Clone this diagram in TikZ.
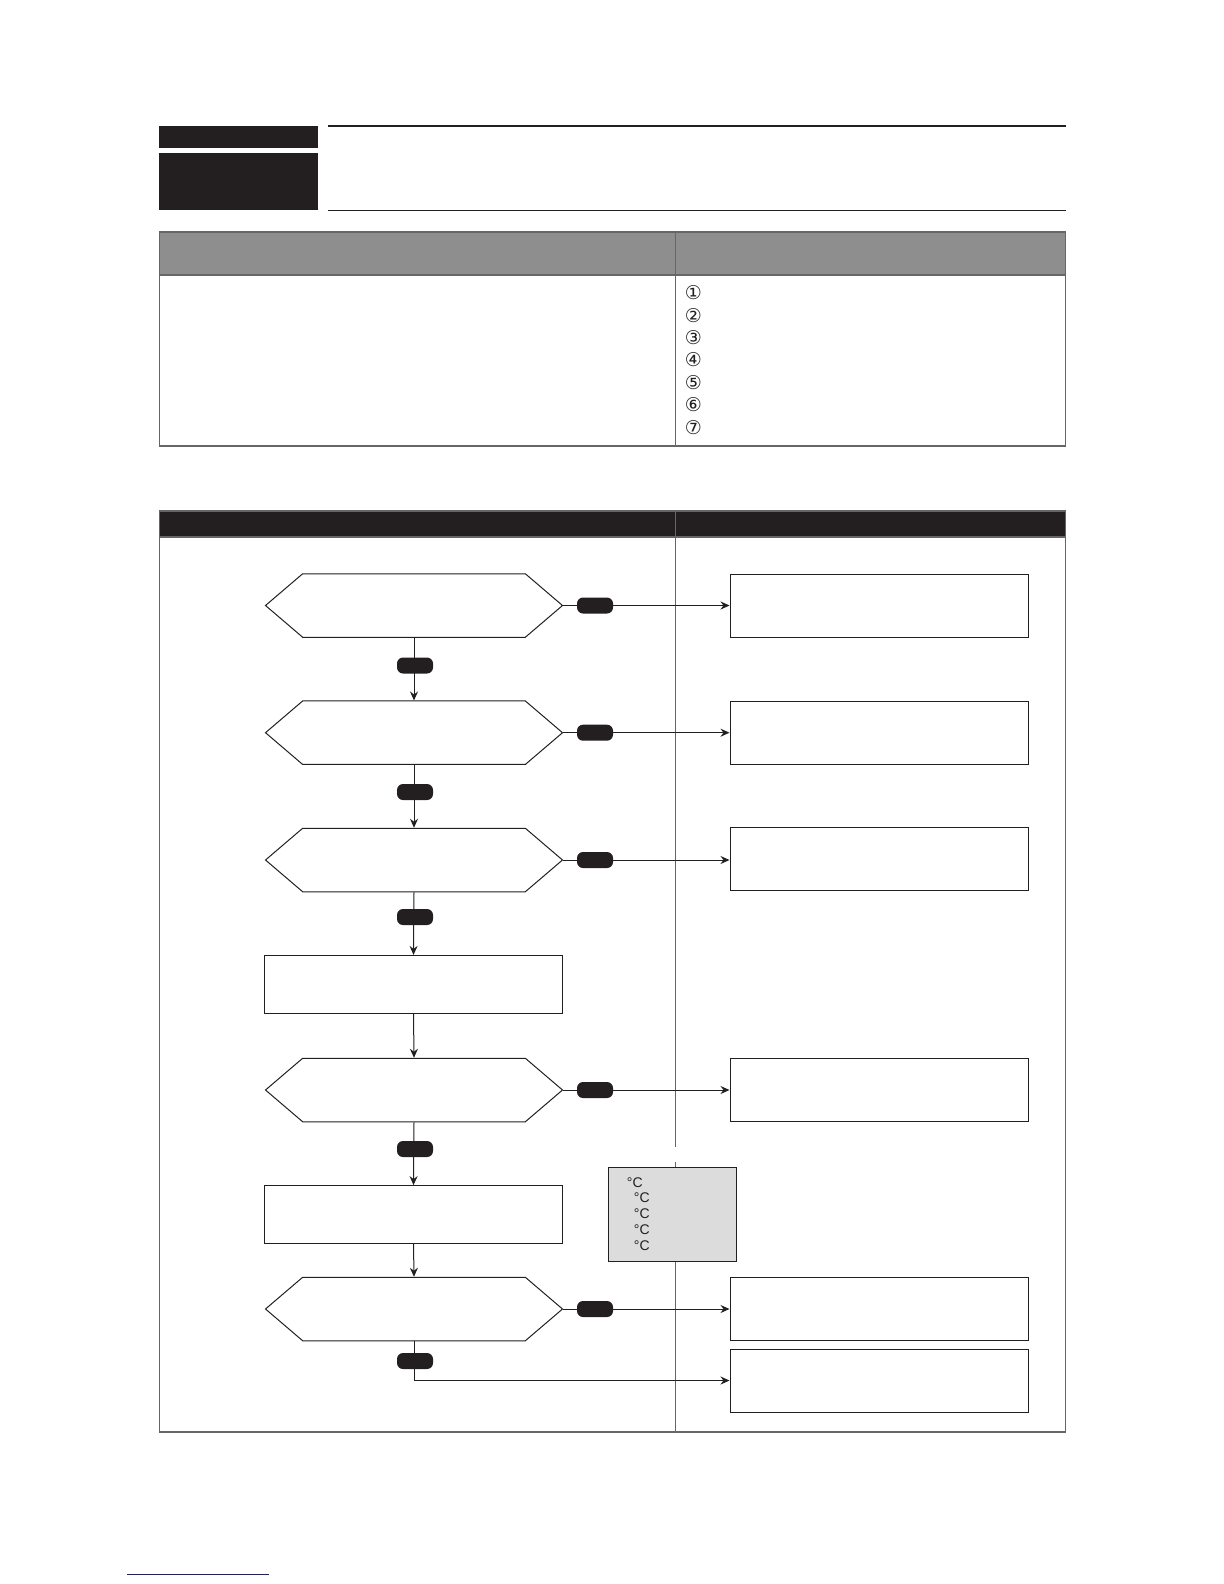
\documentclass[tikz,border=0pt]{standalone}
\usepackage{fontspec}
\setmainfont{Liberation Sans}
\newfontfamily\dejavu{DejaVu Sans}
\usetikzlibrary{shapes.symbols,arrows.meta}
\definecolor{ink}{HTML}{231F20}
\definecolor{hdrgray}{HTML}{8F8E8E}
\definecolor{boxgray}{HTML}{DCDCDC}
\definecolor{rulegray}{HTML}{666666}
\definecolor{linkblue}{HTML}{1A1A8C}
\tikzset{
  decision/.style={signal, signal to=east and west, signal pointer angle=81,
    draw=ink, line width=0.5pt, minimum width=148.5pt, minimum height=31.75pt, inner sep=0pt},
  outbox/.style={rectangle, draw=ink, line width=0.5pt, minimum width=149pt, minimum height=31.5pt, inner sep=0pt},
  procbox/.style={rectangle, draw=ink, line width=0.5pt, minimum width=149pt, minimum height=28.8pt, inner sep=0pt},
  pill/.style={rectangle, rounded corners=3pt, fill=ink, minimum width=18pt, minimum height=8pt, inner sep=0pt},
  flow/.style={draw=ink, line width=0.5pt, -{Stealth[length=4.5pt,width=4pt,inset=1.5pt]}},
  tabline/.style={draw=rulegray, line width=0.6pt},
  circnum/.style={font=\dejavu\fontsize{9.5}{10}\selectfont, inner sep=0pt, text=ink},
  degc/.style={font=\fontsize{7}{8}\selectfont, inner sep=0pt, anchor=west, text=ink},
}
\begin{document}
\begin{tikzpicture}[x=0.5pt,y=-0.5pt]
\useasboundingbox (0,0) rectangle (1224,1584);

% header blocks
\fill[ink] (158.5,126) rectangle (318,147.5);
\fill[ink] (158.5,152.5) rectangle (318,210);
\draw[ink, line width=0.9pt] (328,126) -- (1065.5,126);
\draw[ink, line width=0.5pt] (328,210) -- (1065.5,210);

% table 1
\draw[tabline, fill=hdrgray] (159.5,232) rectangle (1065.5,275);
\draw[tabline] (159.5,275) rectangle (1065.5,446);
\draw[tabline] (675.6,232) -- (675.6,446);
\foreach \n/\yy in {1/292.7,2/315.7,3/338,4/360,5/382.7,6/405,7/427.7}{
  \node[circnum] (c\n) at (693.5,\yy) {\ifcase\n\or ①\or ②\or ③\or ④\or ⑤\or ⑥\or ⑦\fi};
}

% table 2
\draw[tabline, fill=ink] (159.5,511) rectangle (1065.5,537);
\draw[tabline] (159.5,537) rectangle (1065.5,1432);
\draw[tabline] (675.6,511) -- (675.6,537);
\draw[rulegray, line width=0.6pt] (675.6,537) -- (675.6,1147);
\draw[rulegray, line width=0.6pt] (675.6,1162) -- (675.6,1432);

% flowchart nodes
\node[decision] (h1) at (414,605.5) {};
\node[decision] (h2) at (414,732.7) {};
\node[decision] (h3) at (414,860) {};
\node[procbox]  (b1) at (413.5,984.2) {};
\node[decision] (h4) at (414,1090) {};
\node[procbox]  (b2) at (413.5,1214.4) {};
\node[decision] (h5) at (414,1309) {};

\node[outbox] (r1) at (879,605.5) {};
\node[outbox] (r2) at (879,732.7) {};
\node[outbox] (r3) at (879,859) {};
\node[outbox] (r4) at (879,1090) {};
\node[outbox] (r5) at (879,1308.5) {};
\node[outbox] (r6) at (879,1380.5) {};

% connectors
\draw[flow] (h1.east) -- (h1.east -| r1.west);
\draw[flow] (h2.east) -- (h2.east -| r2.west);
\draw[flow] (h3.east) -- (h3.east -| r3.west);
\draw[flow] (h4.east) -- (h4.east -| r4.west);
\draw[flow] (h5.east) -- (h5.east -| r5.west);
\draw[flow] (h1.south) -- (h2.north);
\draw[flow] (h2.south) -- (h3.north);
\draw[flow] (h3.south) -- (b1.north);
\draw[flow] (b1.south) -- (h4.north);
\draw[flow] (h4.south) -- (b2.north);
\draw[flow] (b2.south) -- (h5.north);
\draw[flow] (h5.south) |- (r6.west);

% pills
\node[pill] (p1) at (595,605.5) {};
\node[pill] (p2) at (595,732.7) {};
\node[pill] (p3) at (595,860) {};
\node[pill] (p4) at (595,1090) {};
\node[pill] (p5) at (595,1309) {};
\node[pill] (q1) at (415,665.5) {};
\node[pill] (q2) at (415,792) {};
\node[pill] (q3) at (415,917) {};
\node[pill] (q4) at (415,1149) {};
\node[pill] (q5) at (415,1361) {};

% grey note box
\draw[ink, line width=0.5pt, fill=boxgray] (608,1167) rectangle (736,1261);
\node[degc] (t1) at (626.5,1182.7) {°C};
\node[degc] (t2) at (633.5,1198) {°C};
\node[degc] (t3) at (633.5,1214) {°C};
\node[degc] (t4) at (633.5,1229.5) {°C};
\node[degc] (t5) at (633.5,1246) {°C};

% link underline
\draw[linkblue, line width=0.7pt] (127,1574.5) -- (269,1574.5);
\end{tikzpicture}
\end{document}
